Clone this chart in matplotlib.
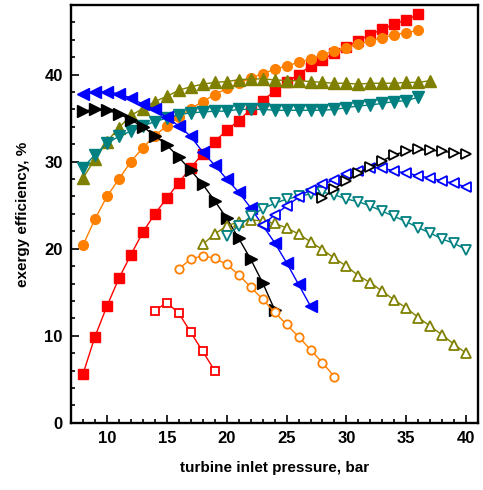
import numpy as np
import matplotlib
matplotlib.use("Agg")
import matplotlib.pyplot as plt
from matplotlib.ticker import MultipleLocator

plt.rcParams['font.family'] = ['Liberation Sans', 'DejaVu Sans']

# ---- data: turbine inlet pressure (bar) vs exergy efficiency (%) ----
p_red_f = list(range(8, 37))
e_red_f = [5.6, 9.9, 13.4, 16.6, 19.3, 21.9, 24.0, 25.8, 27.6, 29.3, 30.9, 32.3, 33.6,
           34.7, 36.0, 37.0, 38.1, 39.1, 40.0, 41.0, 41.7, 42.5, 43.2, 43.9, 44.6,
           45.2, 45.8, 46.3, 46.9]

p_orange_f = list(range(8, 37))
e_orange_f = [20.4, 23.4, 26.0, 28.0, 30.0, 31.6, 33.0, 34.1, 35.1, 36.1, 36.9, 37.7,
              38.4, 39.0, 39.6, 40.1, 40.6, 41.0, 41.4, 41.8, 42.3, 42.7, 43.1, 43.5,
              43.9, 44.2, 44.6, 44.8, 45.1]

p_olive_f = list(range(8, 38))
e_olive_f = [28.1, 30.3, 32.3, 33.9, 35.3, 36.1, 36.9, 37.5, 38.2, 38.6, 38.9, 39.1,
             39.2, 39.4, 39.5, 39.5, 39.4, 39.3, 39.3, 39.2, 39.1, 39.0, 39.0, 38.9,
             39.0, 39.0, 39.0, 39.1, 39.1, 39.3]

p_teal_f = list(range(8, 37))
e_teal_f = [29.3, 30.8, 32.1, 32.9, 33.5, 34.1, 34.6, 35.0, 35.4, 35.6, 35.7, 35.8,
            35.8, 36.0, 36.0, 36.0, 35.9, 35.9, 35.9, 35.9, 35.9, 36.0, 36.2, 36.4,
            36.5, 36.7, 36.9, 37.0, 37.4]

p_blue_f = list(range(8, 28))
e_blue_f = [37.8, 38.0, 38.0, 37.8, 37.3, 36.6, 36.0, 35.1, 34.1, 32.9, 31.1, 29.6,
            28.0, 26.5, 24.7, 22.7, 20.7, 18.4, 15.9, 13.4]

p_black_f = list(range(8, 25))
e_black_f = [35.8, 36.0, 35.9, 35.5, 34.8, 34.0, 33.0, 31.9, 30.5, 29.0, 27.4, 25.5,
             23.5, 21.2, 18.8, 16.1, 13.0]

p_red_o = list(range(14, 20))
e_red_o = [12.9, 13.8, 12.6, 10.4, 8.2, 6.0]

p_orange_o = list(range(16, 30))
e_orange_o = [17.7, 18.8, 19.2, 18.9, 18.2, 17.0, 15.6, 14.2, 12.7, 11.3, 9.9, 8.4,
              6.9, 5.3]

p_olive_o = list(range(18, 41))
e_olive_o = [20.5, 21.7, 22.6, 23.1, 23.3, 23.2, 22.9, 22.4, 21.7, 20.8, 19.9, 18.9,
             18.0, 16.9, 16.1, 15.1, 14.1, 13.2, 12.1, 11.1, 10.1, 9.0, 8.0]

p_teal_o = list(range(20, 41))
e_teal_o = [21.5, 22.6, 23.7, 24.6, 25.2, 25.7, 26.0, 26.3, 26.5, 26.2, 25.7, 25.4,
            24.9, 24.3, 23.7, 23.1, 22.4, 21.8, 21.1, 20.6, 19.9]

p_blue_o = list(range(23, 41))
e_blue_o = [22.7, 23.9, 24.9, 25.9, 26.8, 27.4, 27.9, 28.6, 28.9, 29.3, 29.3, 28.9,
            28.7, 28.4, 28.1, 27.8, 27.5, 27.1]

p_black_o = list(range(28, 41))
e_black_o = [25.8, 26.9, 27.8, 28.7, 29.4, 30.1, 30.8, 31.2, 31.4, 31.3, 31.2, 31.0, 30.9]

x_label = "turbine inlet pressure, bar"
y_label = "exergy efficiency, %"

RED = "#FF0000"
ORANGE = "#FF8000"
OLIVE = "#808000"
TEAL = "#008080"
BLUE = "#0000FF"
BLACK = "#000000"

fig = plt.figure(figsize=(4.83, 4.90), dpi=100)
ax = fig.add_axes([0.147, 0.137, 0.843, 0.853])

lw = 1.0
filled = [
    (p_red_f, e_red_f, RED, "s", 6.5),
    (p_orange_f, e_orange_f, ORANGE, "o", 7.0),
    (p_olive_f, e_olive_f, OLIVE, "^", 8.0),
    (p_teal_f, e_teal_f, TEAL, "v", 8.0),
    (p_blue_f, e_blue_f, BLUE, "<", 8.0),
    (p_black_f, e_black_f, BLACK, ">", 8.0),
]
for xs, ys, c, m, ms in filled:
    ax.plot(xs, ys, color=c, lw=lw, marker=m, ms=ms, mfc=c, mec=c, zorder=3)

hollow = [
    (p_red_o, e_red_o, RED, "s", 5.5),
    (p_orange_o, e_orange_o, ORANGE, "o", 6.0),
    (p_olive_o, e_olive_o, OLIVE, "^", 7.5),
    (p_teal_o, e_teal_o, TEAL, "v", 7.5),
    (p_blue_o, e_blue_o, BLUE, "<", 7.5),
    (p_black_o, e_black_o, BLACK, ">", 7.5),
]
for xs, ys, c, m, ms in hollow:
    ax.plot(xs, ys, color=c, lw=lw, marker=m, ms=ms, mfc="white", mec=c,
            mew=1.3, zorder=3)

ax.set_xlim(7, 41)
ax.set_ylim(0, 48)
ax.xaxis.set_major_locator(MultipleLocator(5))
ax.xaxis.set_minor_locator(MultipleLocator(1))
ax.yaxis.set_major_locator(MultipleLocator(10))
ax.yaxis.set_minor_locator(MultipleLocator(2))
ax.set_xticks([10, 15, 20, 25, 30, 35, 40])

for s in ax.spines.values():
    s.set_linewidth(1.7)

ax.tick_params(which="both", direction="in", top=False, right=False, width=1.2)
ax.tick_params(which="major", length=6, labelsize=12, pad=6)
ax.tick_params(which="minor", length=3)
for lab in ax.get_xticklabels() + ax.get_yticklabels():
    lab.set_fontweight("bold")

ax.set_xlabel(x_label, fontsize=11, fontweight="bold", labelpad=11)
ax.set_ylabel(y_label, fontsize=11, fontweight="bold", labelpad=10)

fig.savefig("out.png", dpi=100)
